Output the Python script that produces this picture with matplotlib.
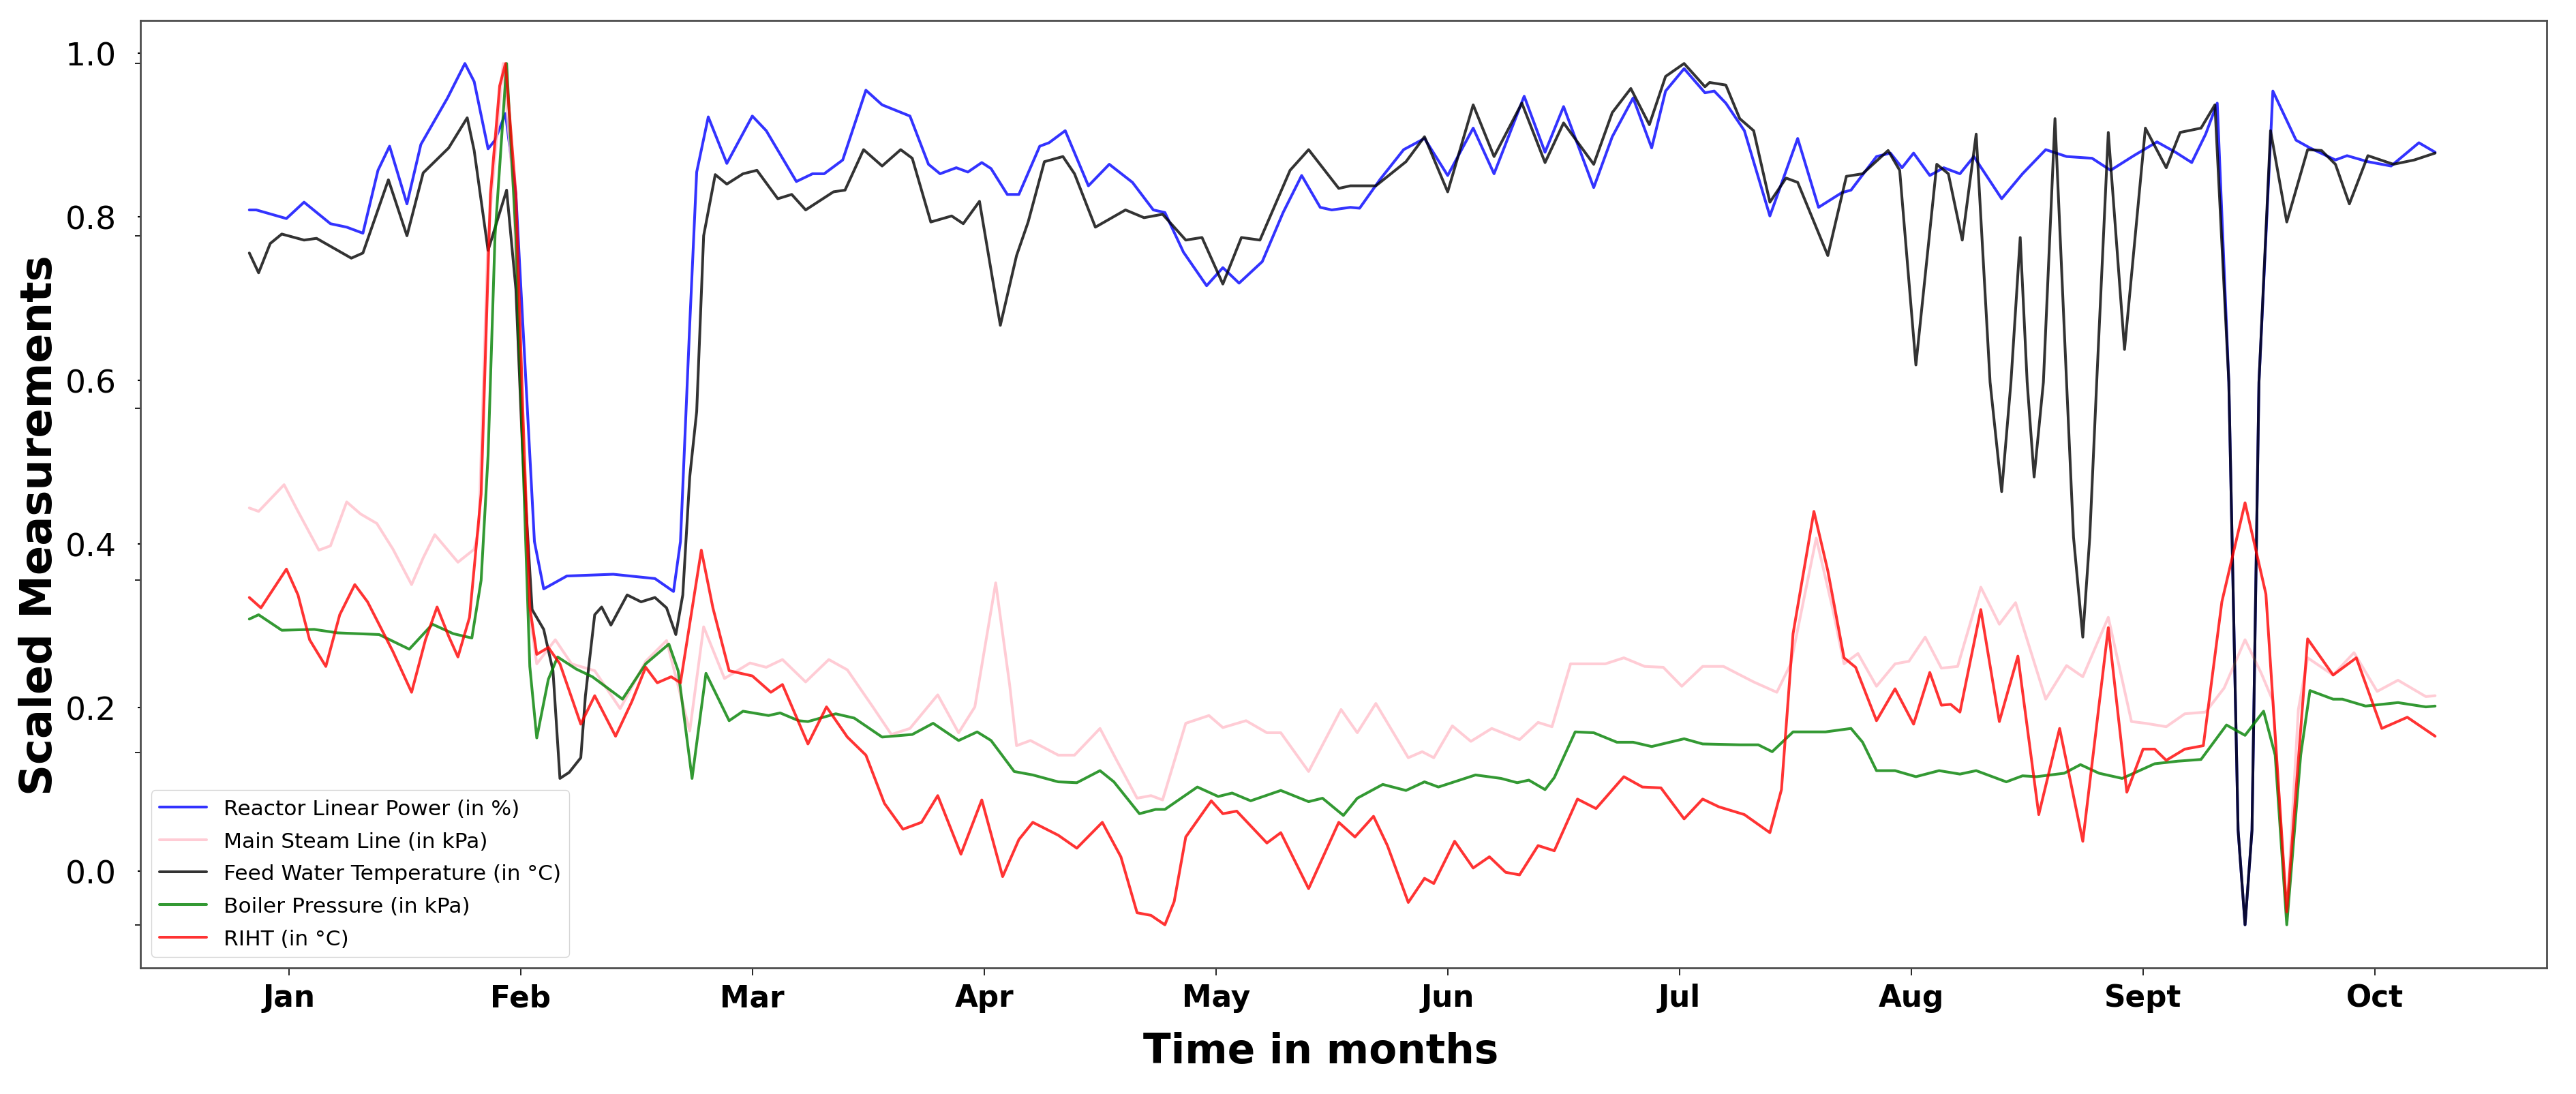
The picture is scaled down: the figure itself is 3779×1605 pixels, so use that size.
import matplotlib
matplotlib.use("Agg")
import matplotlib.pyplot as plt

# time axis is in months (0 = Jan, 1 = Feb, ...), values are min-max scaled
months = ["Jan", "Feb", "Mar", "Apr", "May", "Jun", "Jul", "Aug", "Sept", "Oct"]
ytick_labels = ["0.0", "0.2", "0.4", "0.6", "0.8", "1.0"]

power = [(-0.17, 0.830), (-0.14, 0.83), (-0.01, 0.82), (0.066, 0.839), (0.18, 0.814), (0.25, 0.81),
         (0.32, 0.803), (0.385, 0.876), (0.435, 0.904), (0.51, 0.837), (0.57, 0.906), (0.685, 0.96),
         (0.76, 1.0), (0.80, 0.979), (0.86, 0.901), (0.89, 0.911), (0.935, 0.942), (0.98, 0.848),
         (1.02, 0.647), (1.06, 0.445), (1.10, 0.39), (1.20, 0.405), (1.40, 0.407), (1.58, 0.402),
         (1.66, 0.387), (1.69, 0.445), (1.73, 0.697), (1.76, 0.874), (1.81, 0.938), (1.89, 0.884),
         (2.0, 0.939), (2.06, 0.922), (2.19, 0.863), (2.26, 0.872), (2.31, 0.872), (2.39, 0.888),
         (2.49, 0.969), (2.56, 0.952), (2.68, 0.939), (2.76, 0.883), (2.81, 0.872), (2.88, 0.879),
         (2.93, 0.874), (2.99, 0.885), (3.03, 0.878), (3.10, 0.848), (3.15, 0.848), (3.24, 0.904),
         (3.28, 0.908), (3.35, 0.922), (3.45, 0.858), (3.54, 0.883), (3.64, 0.862), (3.73, 0.830),
         (3.78, 0.827), (3.86, 0.781), (3.96, 0.742), (4.03, 0.763), (4.10, 0.745), (4.20, 0.770),
         (4.29, 0.827), (4.37, 0.870), (4.45, 0.833), (4.50, 0.830), (4.58, 0.833), (4.62, 0.832),
         (4.71, 0.866), (4.81, 0.900), (4.90, 0.913), (5.00, 0.870), (5.11, 0.925), (5.20, 0.872),
         (5.33, 0.962), (5.42, 0.897), (5.50, 0.950), (5.63, 0.856), (5.71, 0.915), (5.80, 0.96),
         (5.88, 0.902), (5.94, 0.968), (6.02, 0.994), (6.11, 0.966), (6.15, 0.968), (6.20, 0.954),
         (6.28, 0.922), (6.39, 0.823), (6.51, 0.913), (6.60, 0.833), (6.70, 0.850), (6.74, 0.853),
         (6.85, 0.892), (6.91, 0.896), (6.96, 0.879), (7.01, 0.896), (7.08, 0.870), (7.14, 0.879),
         (7.21, 0.872), (7.27, 0.892), (7.39, 0.843), (7.48, 0.872), (7.58, 0.900), (7.67, 0.892),
         (7.78, 0.890), (7.86, 0.876), (7.96, 0.893), (8.06, 0.909), (8.14, 0.897), (8.21, 0.885),
         (8.27, 0.918), (8.32, 0.954), (8.37, 0.63), (8.41, 0.11), (8.44, 0.0), (8.47, 0.11),
         (8.50, 0.63), (8.56, 0.968), (8.66, 0.911), (8.72, 0.902), (8.83, 0.888), (8.88, 0.893),
         (8.97, 0.886), (9.07, 0.881), (9.19, 0.908), (9.26, 0.897)]

steam = [(-0.17, 0.484), (-0.13, 0.480), (-0.02, 0.511), (0.04, 0.480), (0.13, 0.435), (0.18, 0.44),
         (0.25, 0.491), (0.31, 0.477), (0.38, 0.466), (0.45, 0.436), (0.53, 0.395), (0.58, 0.426),
         (0.63, 0.453), (0.73, 0.421), (0.80, 0.436), (0.82, 0.46), (0.86, 0.80), (0.925, 1.0),
         (0.97, 0.85), (1.0, 0.6), (1.04, 0.36), (1.07, 0.303), (1.15, 0.331), (1.22, 0.303),
         (1.32, 0.295), (1.43, 0.251), (1.54, 0.306), (1.63, 0.33), (1.73, 0.225), (1.79, 0.346),
         (1.88, 0.286), (1.99, 0.304), (2.06, 0.299), (2.13, 0.308), (2.23, 0.282), (2.33, 0.308),
         (2.41, 0.296), (2.52, 0.253), (2.60, 0.221), (2.68, 0.228), (2.80, 0.267), (2.89, 0.223),
         (2.96, 0.253), (3.05, 0.397), (3.11, 0.279), (3.14, 0.208), (3.20, 0.214), (3.32, 0.197),
         (3.39, 0.197), (3.50, 0.228), (3.57, 0.192), (3.66, 0.147), (3.72, 0.15), (3.77, 0.145),
         (3.87, 0.234), (3.97, 0.243), (4.03, 0.229), (4.13, 0.237), (4.22, 0.223), (4.28, 0.223),
         (4.40, 0.178), (4.54, 0.25), (4.61, 0.223), (4.69, 0.257), (4.83, 0.194), (4.89, 0.201),
         (4.94, 0.194), (5.02, 0.231), (5.10, 0.213), (5.19, 0.228), (5.31, 0.215), (5.39, 0.235),
         (5.45, 0.23), (5.53, 0.303), (5.68, 0.303), (5.76, 0.31), (5.85, 0.30), (5.93, 0.299),
         (6.01, 0.277), (6.10, 0.30), (6.19, 0.30), (6.32, 0.282), (6.42, 0.27), (6.48, 0.303),
         (6.59, 0.449), (6.66, 0.368), (6.71, 0.303), (6.77, 0.315), (6.85, 0.277), (6.93, 0.303),
         (6.99, 0.306), (7.06, 0.334), (7.13, 0.298), (7.20, 0.30), (7.30, 0.392), (7.38, 0.349),
         (7.45, 0.374), (7.58, 0.262), (7.67, 0.301), (7.74, 0.288), (7.85, 0.357), (7.95, 0.236),
         (8.01, 0.234), (8.10, 0.23), (8.18, 0.245), (8.27, 0.247), (8.35, 0.275), (8.44, 0.331),
         (8.51, 0.292), (8.56, 0.26), (8.62, 0.01), (8.67, 0.25), (8.71, 0.31), (8.82, 0.29),
         (8.91, 0.316), (9.01, 0.271), (9.10, 0.284), (9.22, 0.265), (9.26, 0.266)]

feedwater = [(-0.17, 0.78), (-0.13, 0.757), (-0.08, 0.791), (-0.03, 0.802), (0.066, 0.795), (0.12, 0.797),
             (0.27, 0.774), (0.32, 0.78), (0.43, 0.865), (0.51, 0.80), (0.58, 0.873), (0.69, 0.902),
             (0.77, 0.937), (0.80, 0.899), (0.86, 0.783), (0.94, 0.853), (0.98, 0.738), (1.01, 0.545),
             (1.05, 0.366), (1.10, 0.343), (1.14, 0.295), (1.17, 0.17), (1.21, 0.177), (1.26, 0.194),
             (1.28, 0.266), (1.32, 0.36), (1.35, 0.369), (1.39, 0.348), (1.46, 0.383), (1.52, 0.375),
             (1.58, 0.38), (1.63, 0.368), (1.67, 0.337), (1.70, 0.383), (1.73, 0.52), (1.76, 0.596),
             (1.79, 0.80), (1.84, 0.871), (1.89, 0.86), (1.96, 0.872), (2.02, 0.876), (2.11, 0.843),
             (2.17, 0.848), (2.23, 0.830), (2.35, 0.851), (2.40, 0.853), (2.48, 0.90), (2.56, 0.881),
             (2.64, 0.90), (2.69, 0.89), (2.77, 0.816), (2.86, 0.823), (2.91, 0.814), (2.98, 0.84),
             (3.07, 0.696), (3.14, 0.777), (3.19, 0.816), (3.26, 0.886), (3.34, 0.892), (3.39, 0.872),
             (3.48, 0.81), (3.61, 0.83), (3.69, 0.821), (3.77, 0.825), (3.87, 0.795), (3.94, 0.798),
             (4.03, 0.744), (4.11, 0.798), (4.19, 0.795), (4.32, 0.876), (4.40, 0.90), (4.53, 0.855),
             (4.58, 0.858), (4.69, 0.858), (4.82, 0.886), (4.90, 0.915), (5.00, 0.851), (5.11, 0.952),
             (5.20, 0.892), (5.32, 0.954), (5.42, 0.885), (5.50, 0.931), (5.63, 0.883), (5.71, 0.943),
             (5.79, 0.971), (5.87, 0.929), (5.94, 0.985), (6.02, 1.0), (6.11, 0.973), (6.13, 0.978),
             (6.20, 0.975), (6.26, 0.936), (6.32, 0.922), (6.39, 0.839), (6.46, 0.867), (6.51, 0.862),
             (6.64, 0.777), (6.72, 0.869), (6.79, 0.872), (6.90, 0.899), (6.95, 0.876), (7.02, 0.65),
             (7.11, 0.883), (7.16, 0.872), (7.22, 0.795), (7.28, 0.918), (7.34, 0.63), (7.39, 0.503),
             (7.43, 0.63), (7.47, 0.798), (7.50, 0.63), (7.53, 0.52), (7.57, 0.63), (7.62, 0.936),
             (7.67, 0.63), (7.70, 0.45), (7.74, 0.334), (7.77, 0.45), (7.80, 0.63), (7.85, 0.92),
             (7.92, 0.668), (8.01, 0.925), (8.10, 0.879), (8.16, 0.92), (8.25, 0.925), (8.31, 0.952),
             (8.37, 0.63), (8.41, 0.11), (8.44, 0.0), (8.47, 0.11), (8.50, 0.63), (8.55, 0.922),
             (8.62, 0.816), (8.71, 0.90), (8.77, 0.899), (8.83, 0.883), (8.89, 0.837), (8.97, 0.893),
             (9.08, 0.883), (9.17, 0.888), (9.26, 0.896)]

boiler = [(-0.17, 0.355), (-0.13, 0.36), (-0.03, 0.342), (0.11, 0.343), (0.21, 0.339), (0.39, 0.337),
          (0.52, 0.32), (0.62, 0.349), (0.71, 0.338), (0.79, 0.333), (0.83, 0.40), (0.86, 0.545),
          (0.89, 0.80), (0.94, 1.0), (0.98, 0.80), (1.01, 0.545), (1.04, 0.30), (1.07, 0.217),
          (1.12, 0.285), (1.16, 0.311), (1.24, 0.297), (1.31, 0.288), (1.44, 0.262), (1.54, 0.303),
          (1.64, 0.326), (1.68, 0.295), (1.74, 0.17), (1.80, 0.292), (1.90, 0.237), (1.96, 0.248),
          (2.07, 0.243), (2.12, 0.246), (2.20, 0.237), (2.24, 0.236), (2.36, 0.245), (2.44, 0.24),
          (2.56, 0.218), (2.69, 0.221), (2.78, 0.234), (2.89, 0.214), (2.97, 0.224), (3.03, 0.214),
          (3.13, 0.178), (3.21, 0.174), (3.32, 0.166), (3.40, 0.165), (3.50, 0.179), (3.56, 0.166),
          (3.67, 0.129), (3.74, 0.134), (3.78, 0.134), (3.92, 0.16), (4.01, 0.149), (4.07, 0.153),
          (4.15, 0.144), (4.28, 0.156), (4.40, 0.143), (4.46, 0.147), (4.55, 0.127), (4.61, 0.147),
          (4.72, 0.163), (4.82, 0.156), (4.90, 0.166), (4.96, 0.16), (5.12, 0.174), (5.23, 0.17),
          (5.30, 0.165), (5.35, 0.168), (5.42, 0.157), (5.46, 0.171), (5.55, 0.224), (5.63, 0.223),
          (5.73, 0.212), (5.80, 0.212), (5.88, 0.207), (6.02, 0.216), (6.10, 0.21), (6.26, 0.209),
          (6.34, 0.209), (6.40, 0.201), (6.49, 0.224), (6.63, 0.224), (6.74, 0.228), (6.79, 0.212),
          (6.85, 0.179), (6.93, 0.179), (7.02, 0.172), (7.12, 0.179), (7.21, 0.175), (7.28, 0.179),
          (7.41, 0.166), (7.48, 0.173), (7.54, 0.172), (7.66, 0.176), (7.73, 0.186), (7.81, 0.176),
          (7.91, 0.17), (8.05, 0.187), (8.15, 0.19), (8.25, 0.192), (8.36, 0.232), (8.44, 0.22),
          (8.52, 0.248), (8.57, 0.197), (8.62, 0.0), (8.68, 0.197), (8.72, 0.272), (8.82, 0.262),
          (8.86, 0.262), (8.96, 0.254), (9.10, 0.258), (9.22, 0.253), (9.26, 0.254)]

riht = [(-0.17, 0.380), (-0.12, 0.368), (-0.01, 0.413), (0.04, 0.383), (0.09, 0.331), (0.16, 0.30),
        (0.22, 0.36), (0.285, 0.395), (0.34, 0.375), (0.45, 0.317), (0.53, 0.27), (0.59, 0.331),
        (0.64, 0.369), (0.69, 0.335), (0.73, 0.311), (0.78, 0.357), (0.83, 0.50), (0.87, 0.848),
        (0.91, 0.974), (0.935, 1.0), (0.98, 0.848), (1.01, 0.596), (1.04, 0.369), (1.07, 0.314),
        (1.12, 0.322), (1.17, 0.303), (1.26, 0.233), (1.32, 0.266), (1.41, 0.219), (1.48, 0.259),
        (1.54, 0.299), (1.59, 0.281), (1.65, 0.288), (1.69, 0.281), (1.78, 0.435), (1.83, 0.368),
        (1.90, 0.295), (2.0, 0.289), (2.08, 0.27), (2.13, 0.279), (2.24, 0.21), (2.32, 0.253),
        (2.41, 0.218), (2.49, 0.197), (2.57, 0.141), (2.65, 0.111), (2.73, 0.119), (2.80, 0.15),
        (2.90, 0.082), (2.99, 0.145), (3.08, 0.056), (3.15, 0.099), (3.21, 0.119), (3.32, 0.104),
        (3.40, 0.089), (3.51, 0.119), (3.59, 0.079), (3.66, 0.014), (3.72, 0.011), (3.78, 0.0),
        (3.82, 0.027), (3.87, 0.102), (3.98, 0.144), (4.03, 0.129), (4.09, 0.132), (4.22, 0.095),
        (4.28, 0.107), (4.40, 0.042), (4.53, 0.119), (4.60, 0.102), (4.68, 0.126), (4.74, 0.092),
        (4.83, 0.026), (4.90, 0.054), (4.94, 0.048), (5.03, 0.097), (5.11, 0.066), (5.18, 0.079),
        (5.25, 0.061), (5.31, 0.058), (5.39, 0.092), (5.46, 0.086), (5.56, 0.146), (5.64, 0.135),
        (5.76, 0.172), (5.84, 0.16), (5.92, 0.159), (6.02, 0.123), (6.10, 0.146), (6.17, 0.137),
        (6.28, 0.128), (6.39, 0.107), (6.44, 0.157), (6.49, 0.338), (6.58, 0.48), (6.64, 0.411),
        (6.71, 0.31), (6.76, 0.299), (6.85, 0.237), (6.93, 0.274), (7.01, 0.233), (7.08, 0.293),
        (7.13, 0.255), (7.17, 0.256), (7.21, 0.247), (7.30, 0.366), (7.38, 0.236), (7.46, 0.312),
        (7.55, 0.128), (7.64, 0.228), (7.74, 0.097), (7.85, 0.345), (7.93, 0.154), (8.00, 0.204),
        (8.05, 0.204), (8.10, 0.191), (8.18, 0.204), (8.26, 0.208), (8.34, 0.375), (8.44, 0.49),
        (8.53, 0.384), (8.62, 0.015), (8.71, 0.332), (8.82, 0.29), (8.92, 0.31), (9.03, 0.228),
        (9.14, 0.241), (9.26, 0.219)]

series = [
    (power, "blue", "Reactor Linear Power (in %)"),
    (steam, "pink", "Main Steam Line (in kPa)"),
    (feedwater, "black", "Feed Water Temperature (in °C)"),
    (boiler, "green", "Boiler Pressure (in kPa)"),
    (riht, "red", "RIHT (in °C)"),
]

fig = plt.figure(figsize=(37.79, 16.06), dpi=100)
ax = fig.add_axes([0.0545, 0.1152, 0.934, 0.8655])

for pts, col, lab in series:
    t = [p[0] for p in pts]
    v = [p[1] for p in pts]
    ax.plot(t, v, color=col, alpha=0.8, lw=2.9, label=lab,
            solid_joinstyle="round", solid_capstyle="round")

ax.set_xlim(-0.64, 9.74)
ax.set_ylim(-0.05, 1.05)
ax.set_xticks(range(len(months)))
ax.set_xticklabels(months, fontsize=31.5, fontweight="bold")

# in the source image the tick labels sit a little off the real tick marks
ax.set_yticks([0.062 + 0.19 * i for i in range(6)])
ax.set_yticklabels(ytick_labels, fontsize=34)
ax.set_yticks([0.0, 0.2, 0.4, 0.6, 0.8, 1.0], minor=True)
ax.tick_params(axis="x", length=8, width=1.2, pad=8)
ax.tick_params(axis="y", which="major", length=3, width=1.5, pad=22)
ax.tick_params(axis="y", which="minor", length=6, width=1.2)
for s in ax.spines.values():
    s.set_color("0.3")
    s.set_linewidth(2)

ax.set_xlabel("Time in months", fontsize=43, fontweight="bold")
ax.xaxis.set_label_coords(0.4905, -0.067)
ax.set_ylabel("Scaled Measurements", fontsize=46, fontweight="bold")
ax.yaxis.set_label_coords(-0.033, 0.468)

ax.legend(loc="lower left", fontsize=22.5, handlelength=2.2, labelspacing=0.6)

fig.savefig("out.png", dpi=100)
